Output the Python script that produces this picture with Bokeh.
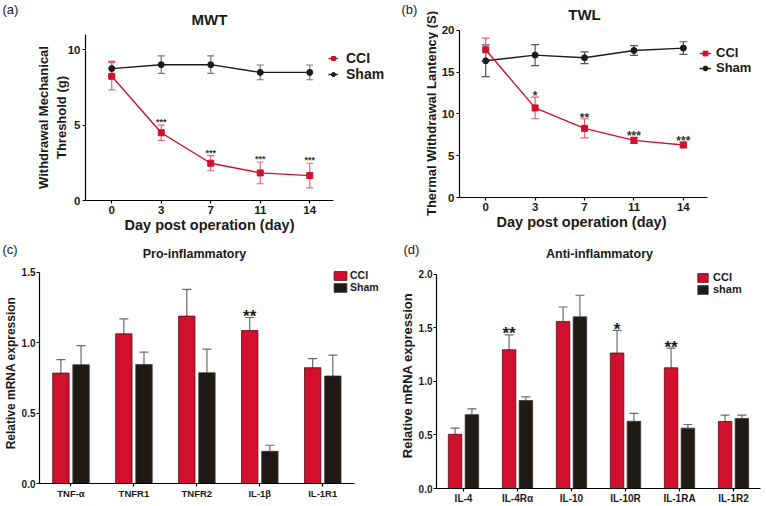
import math
from bokeh.plotting import figure
from bokeh.models import (ColumnDataSource, Whisker, TeeHead, Legend, LegendItem,
                          FixedTicker, PrintfTickFormatter)
from bokeh.layouts import column, row
from bokeh.embed import file_html
from bokeh.resources import INLINE
from bokeh.core.properties import value

FONT = "Liberation Sans"
RED = "#d0102c"
BLACK = "#1f1a18"
GREY = "#6a6a6a"
TXT = "#1a1a1a"

# ---------------- data ----------------
days = ["0", "3", "7", "11", "14"]
mwt_yticks = [0, 5, 10]
mwt_cci = [8.23, 4.49, 2.47, 1.83, 1.65]
mwt_cci_err = [0.90, 0.50, 0.50, 0.72, 0.82]
mwt_sham = [8.74, 9.00, 9.00, 8.49, 8.49]
mwt_sham_err = [0.48, 0.58, 0.58, 0.49, 0.49]
mwt_stars = ["", "***", "***", "***", "***"]

twl_yticks = [0, 5, 10, 15, 20]
twl_cci = [17.69, 10.73, 8.28, 6.84, 6.29]
twl_cci_err = [1.40, 1.30, 1.15, 0.37, 0.33]
twl_sham = [16.37, 17.05, 16.73, 17.60, 17.89]
twl_sham_err = [1.90, 1.25, 0.70, 0.58, 0.76]
twl_stars = ["", "*", "**", "***", "***"]

pro_genes = ["TNF-α", "TNFR1", "TNFR2", "IL-1β", "IL-1R1"]
pro_yticks = [0.0, 0.5, 1.0, 1.5]
pro_cci = [0.785, 1.064, 1.190, 1.087, 0.823]
pro_cci_err = [0.095, 0.106, 0.190, 0.093, 0.064]
pro_sham = [0.844, 0.846, 0.787, 0.229, 0.764]
pro_sham_err = [0.136, 0.088, 0.168, 0.043, 0.149]
pro_stars = ["", "", "", "**", ""]

anti_genes = ["IL-4", "IL-4Rα", "IL-10", "IL-10R", "IL-1RA", "IL-1R2"]
anti_yticks = [0.0, 0.5, 1.0, 1.5, 2.0]
anti_cci = [0.506, 1.297, 1.560, 1.266, 1.128, 0.626]
anti_cci_err = [0.058, 0.138, 0.136, 0.212, 0.184, 0.060]
anti_sham = [0.690, 0.822, 1.604, 0.628, 0.564, 0.653]
anti_sham_err = [0.055, 0.034, 0.202, 0.074, 0.034, 0.033]
anti_stars = ["", "**", "", "*", "**", ""]


# ---------------- helpers ----------------
def strip(w, h, items):
    """Text-only strip (frame = whole canvas, pixel coordinates)."""
    p = figure(width=w, height=h, x_range=(0, w), y_range=(h, 0), x_axis_type=None,
               y_axis_type=None, output_backend="svg", toolbar_location=None, min_border=0,
               frame_align=False)
    p.outline_line_color = None
    for (x, y, t, size, bold, align, base, ang) in items:
        p.text(x=[x], y=[y], text=[t], text_font=value(FONT), text_font_size=size,
               text_font_style="bold" if bold else "normal", text_align=align,
               text_baseline=base, text_color=TXT, angle=ang)
    return p


def base_fig(w, h, left, right, top, bottom, xr, yr, tick_size):
    p = figure(width=w, height=h, x_range=xr, y_range=yr, output_backend="svg",
               toolbar_location=None, min_border_left=left, min_border_right=right,
               min_border_top=top, min_border_bottom=bottom, frame_align=False)
    p.outline_line_color = None
    p.xgrid.visible = False
    p.ygrid.visible = False
    for ax in (p.xaxis[0], p.yaxis[0]):
        ax.axis_line_color = "black"
        ax.axis_line_width = 1.2
        ax.major_tick_line_color = "black"
        ax.major_tick_line_width = 1.2
        ax.major_tick_in = 0
        ax.major_tick_out = 3
        ax.minor_tick_line_color = None
        ax.major_label_text_font = FONT
        ax.major_label_text_font_style = "bold"
        ax.major_label_text_font_size = tick_size
        ax.major_label_text_color = TXT
        ax.major_label_standoff = 2
        ax.axis_label_text_font = FONT
        ax.axis_label_text_font_style = "bold"
        ax.axis_label_text_color = TXT
    return p


def whisk(p, xs, lo, hi, color, head, lower=True, width=1.2):
    src = ColumnDataSource(dict(x=xs, lower=lo, upper=hi))
    w = Whisker(base="x", lower="lower", upper="upper", source=src, dimension="height",
                line_color=color, line_width=width,
                upper_head=TeeHead(size=head, line_color=color, line_width=width),
                lower_head=TeeHead(size=head, line_color=color, line_width=width) if lower else None)
    p.add_layout(w)


def make_legend(items, loc, font, gw, gh, standoff):
    return Legend(items=items, location=loc, border_line_color=None, background_fill_alpha=0,
                  padding=0, margin=0, spacing=0, glyph_width=gw, glyph_height=gh,
                  label_height=gh, label_standoff=standoff, label_text_font=FONT,
                  label_text_font_size=font, label_text_font_style="bold",
                  label_text_color=TXT)


def line_panel(w, h, left, right, top, bottom, x_end, yr, y_top, yticks, cci, cci_err, sham,
               sham_err, stars, star_size, star_off, cap, leg_loc, leg_font, leg_row,
               leg_gw, leg_standoff, cci_err_color, sham_err_color):
    xr = (-0.53, x_end)
    p = base_fig(w, h, left, right, top, bottom, xr, yr, "11.5px")
    xs = list(range(len(days)))
    p.xaxis.bounds = (-0.53, 4.48)
    p.yaxis.bounds = (0, y_top)
    p.xaxis.ticker = FixedTicker(ticks=xs)
    p.xaxis.major_label_overrides = {i: d for i, d in enumerate(days)}
    p.yaxis.ticker = FixedTicker(ticks=yticks)
    whisk(p, xs, [a - b for a, b in zip(sham, sham_err)], [a + b for a, b in zip(sham, sham_err)],
          sham_err_color, cap)
    whisk(p, xs, [a - b for a, b in zip(cci, cci_err)], [a + b for a, b in zip(cci, cci_err)],
          cci_err_color, cap)
    l2 = p.line(xs, sham, line_color=BLACK, line_width=1.4)
    s2 = p.scatter(xs, sham, marker="circle", size=6, color=BLACK)
    l1 = p.line(xs, cci, line_color=RED, line_width=1.4)
    s1 = p.scatter(xs, cci, marker="square", size=6, color=RED)
    p.text(x=xs, y=[a + b for a, b in zip(cci, cci_err)], text=stars,
           text_font=value(FONT), text_font_size=star_size, text_font_style="bold",
           text_align="center", text_baseline="alphabetic", y_offset=star_off,
           text_color="#333333")
    p.add_layout(make_legend([LegendItem(label="CCI", renderers=[l1, s1]),
                              LegendItem(label="Sham", renderers=[l2, s2])],
                             leg_loc, leg_font, leg_gw, leg_row, leg_standoff))
    return p


def bar_panel(w, h, left, right, top, bottom, genes, x_end, yr, y_top, yticks, cci, cci_err,
              sham, sham_err, stars, bw, off, tick_x, tick_y, ylabel_size, leg_loc, leg_font,
              leg_gw, leg_gh, leg_standoff, sham_name):
    xr = (-0.5, x_end)
    p = base_fig(w, h, left, right, top, bottom, xr, yr, tick_y)
    p.xaxis.major_label_text_font_size = tick_x
    p.xaxis.major_label_standoff = 1
    xs = list(range(len(genes)))
    p.xaxis.bounds = (-0.5, len(genes) - 0.5)
    p.yaxis.bounds = (0, y_top)
    p.xaxis.ticker = FixedTicker(ticks=xs)
    p.xaxis.major_label_overrides = {i: g for i, g in enumerate(genes)}
    p.yaxis.ticker = FixedTicker(ticks=yticks)
    p.yaxis.formatter = PrintfTickFormatter(format="%.1f")
    p.yaxis.axis_label = "Relative mRNA expression"
    p.yaxis.axis_label_text_font_size = ylabel_size
    p.yaxis.axis_label_standoff = 1
    p.yaxis.major_label_standoff = 1
    xc = [x - off for x in xs]
    xsh = [x + off for x in xs]
    whisk(p, xc, cci, [a + b for a, b in zip(cci, cci_err)], GREY, 9, lower=False)
    whisk(p, xsh, sham, [a + b for a, b in zip(sham, sham_err)], GREY, 9, lower=False)
    r1 = p.vbar(x=xc, top=cci, width=bw, bottom=0, fill_color=RED, line_color="#5a0a12",
                line_width=0.8)
    r2 = p.vbar(x=xsh, top=sham, width=bw, bottom=0, fill_color=BLACK, line_color="#3a3030",
                line_width=0.8)
    p.text(x=xc, y=[a + b for a, b in zip(cci, cci_err)], text=stars,
           text_font=value(FONT), text_font_size="17px", text_font_style="bold",
           text_align="center", text_baseline="alphabetic", y_offset=-1,
           text_color=TXT)
    p.add_layout(make_legend([LegendItem(label="CCI", renderers=[r1]),
                              LegendItem(label=sham_name, renderers=[r2])],
                             leg_loc, leg_font, leg_gw, leg_gh, leg_standoff))
    return p


# ---------------- panel (a) ----------------
ha = strip(398, 34, [(2, 9, "(a)", "13px", False, "left", "middle", 0),
                     (209, 19, "MWT", "15px", True, "center", "middle", 0)])
pa = line_panel(398, 183, 85, 0, 0, 17, 5.793, (0, 11), 11, mwt_yticks,
                mwt_cci, mwt_cci_err, mwt_sham, mwt_sham_err, mwt_stars, "9px", -3, 7,
                (243, 118), "14px", 16, 10, 8, "#e06a7a", "#777777")
pa.yaxis.axis_label = "Withdrawal Mechanical\nThreshold (g)"
pa.yaxis.axis_label_text_font_size = "13px"
pa.yaxis.axis_label_standoff = -4
fa = strip(398, 23, [(209, 7, "Day post operation (day)", "14.5px", True, "center", "middle", 0)])

# ---------------- panel (b) ----------------
sb = strip(40, 240, [(3, 9, "(b)", "13px", False, "left", "middle", 0),
                     (33, 113, "Thermal Withdrawal Lantency (S)", "13px", True, "center",
                      "middle", math.pi / 2)])
pb = line_panel(328, 215, 18, 0, 0, 18, 5.682, (0, 23.59), 20, twl_yticks,
                twl_cci, twl_cci_err, twl_sham, twl_sham_err, twl_stars, "12px", -1, 8,
                (240, 122), "13px", 12, 12, 5, "#e06070", "#555555")
pb.text(x=[2.0], y=[21.9], text=["TWL"], text_font=value(FONT), text_font_size="15px",
        text_font_style="bold", text_align="center", text_baseline="middle", text_color=TXT)
fb = strip(328, 25, [(143, 6, "Day post operation (day)", "14.5px", True, "center", "middle", 0)])

# ---------------- panel (c) ----------------
hc = strip(383, 22, [(2, 9, "(c)", "13px", False, "left", "middle", 0),
                     (194, 13, "Pro-inflammatory", "12.5px", True, "center", "middle", 0)])
pc = bar_panel(383, 244, 36, 0, 0, 23, pro_genes, 4.965, (0, 1.571), 1.5, pro_yticks,
               pro_cci, pro_cci_err, pro_sham, pro_sham_err, pro_stars, 0.26, 0.16,
               "9.5px", "10px", "12px", (293, 190), "10.5px", 16, 11, 2, "Sham")

# ---------------- panel (d) ----------------
hd = strip(383, 22, [(20, 9, "(d)", "13px", False, "left", "middle", 0),
                     (216, 13, "Anti-inflammatory", "12.5px", True, "center", "middle", 0)])
pd = bar_panel(383, 244, 53, 0, 0, 17, anti_genes, 5.611, (0, 2.112), 2.0, anti_yticks,
               anti_cci, anti_cci_err, anti_sham, anti_sham_err, anti_stars, 0.25, 0.156,
               "10px", "10px", "13px", (260, 193), "11px", 13, 11, 4, "sham")

layout = column(row(column(ha, pa, fa), sb, column(pb, fb)),
                row(column(hc, pc), column(hd, pd)))
open("out.html", "w").write(file_html(layout, INLINE))
